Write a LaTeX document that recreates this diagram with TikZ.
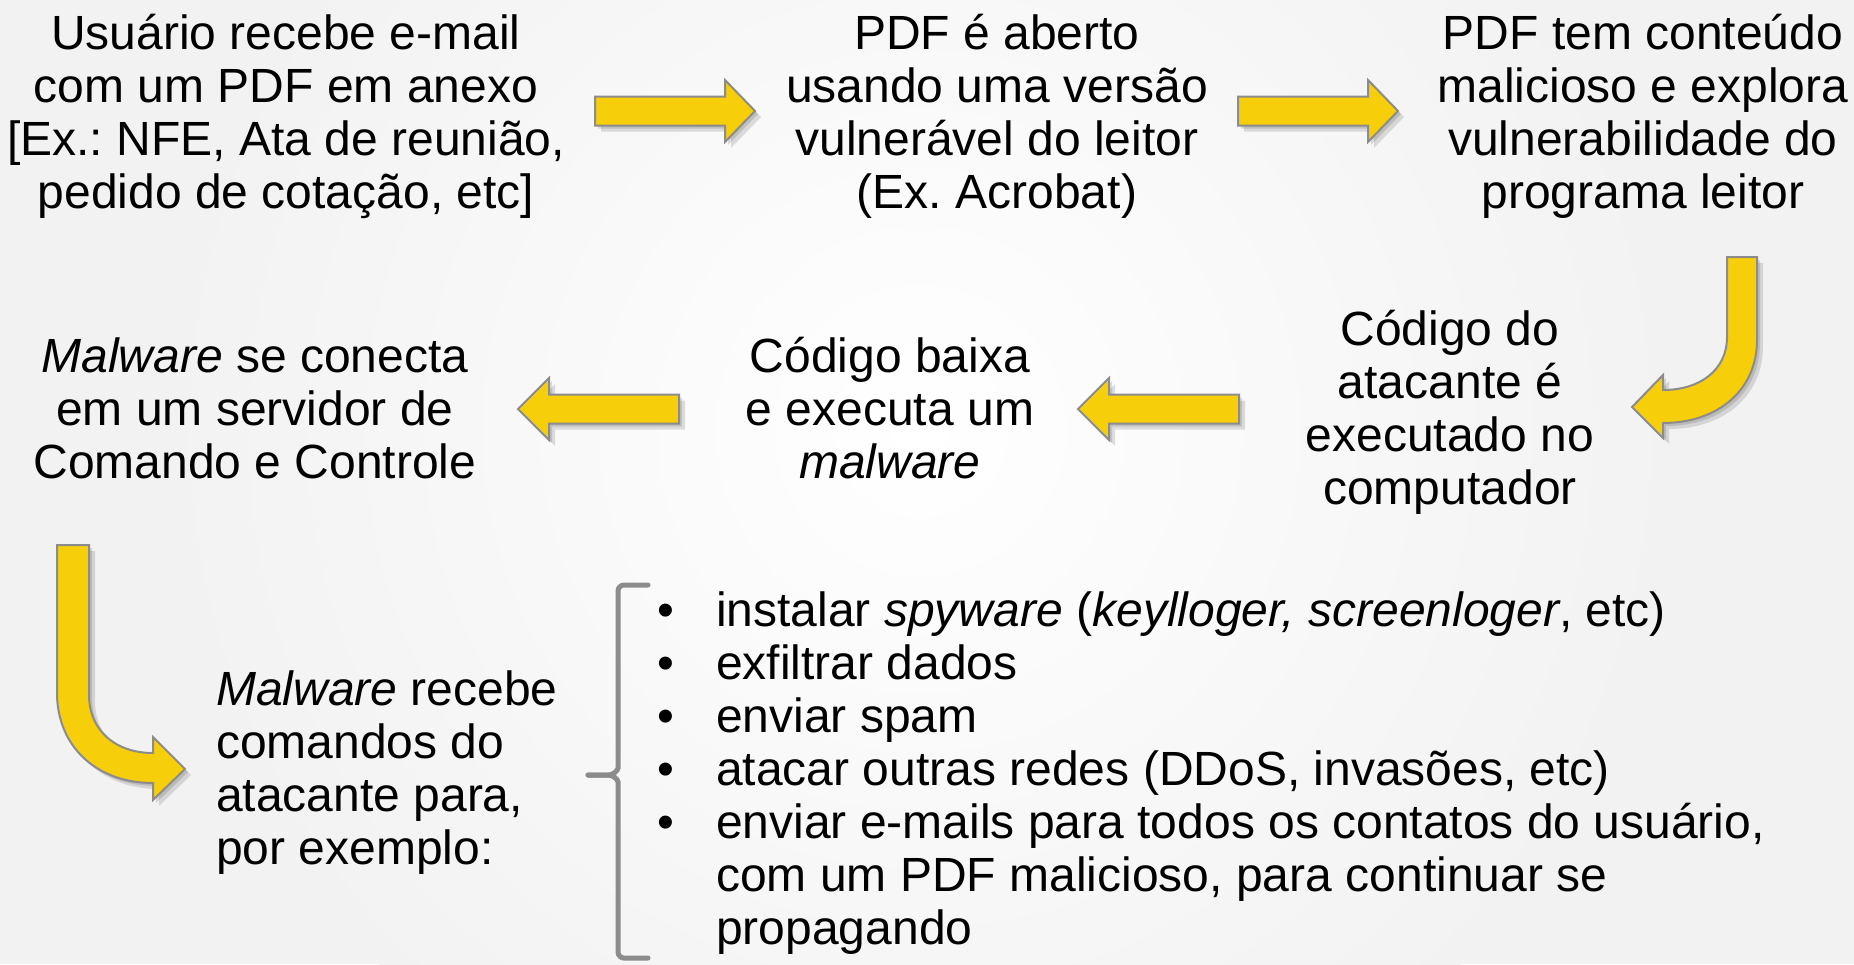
\documentclass[tikz,border=0pt]{standalone}
\usepackage{fontspec}
\setmainfont{Liberation Sans}
\usetikzlibrary{positioning}
\definecolor{arrowyellow}{RGB}{246,206,10}
\definecolor{edgegray}{RGB}{140,140,140}
\definecolor{bggray}{RGB}{242,242,242}
\frenchspacing
\begin{document}
\begin{tikzpicture}[x=1pt,y=-1pt,
    txt/.style={align=center,inner sep=0pt,font=\fontsize{48}{53}\selectfont},
    yarrow/.style={fill=arrowyellow,draw=edgegray,line width=2pt,line join=miter,
      preaction={fill=black,opacity=.12,transform canvas={xshift=6pt,yshift=-6pt}},
      preaction={fill=black,opacity=.12,transform canvas={xshift=3pt,yshift=-3pt}}},
    brace/.style={draw=edgegray,line width=5pt,rounded corners=6pt,line cap=round}]
  \useasboundingbox (0,0) rectangle (1854,964);
  \fill[bggray] (0,0) rectangle (1854,964);
  \shade[inner color=white,outer color=bggray] (920,430) circle (760);

  % steps
  \node[txt] (email) at (286,116) {Usuário recebe e-mail\\com um PDF em anexo\\{[}Ex.: NFE, Ata de reunião,\\pedido de cotação, etc{]}};
  \node[txt] (opened) at (997,116) {PDF é aberto\\usando uma versão\\vulnerável do leitor\\(Ex. Acrobat)};
  \node[txt] (exploit) at (1643,116) {PDF tem conteúdo\\malicioso e explora\\vulnerabilidade do\\programa leitor};
  \node[txt] (runs) at (1450,412) {Código do\\atacante é\\executado no\\computador};
  \node[txt] (download) at (890,408) {Código baixa\\e executa um\\\textit{malware}};
  \node[txt] (cnc) at (255,408) {\textit{Malware} se conecta\\em um servidor de\\Comando e Controle};
  \node[txt,align=left,anchor=west] (orders) at (216,773) {\textit{Malware} recebe\\comandos do\\atacante para,\\por exemplo:};
  \node[inner sep=0pt,anchor=base west,font=\fontsize{48}{53}\selectfont] (actions) at (657,626)
    {\begin{tabular}[t]{@{}p{59pt}@{}l@{}}
      \textbullet & instalar \textit{spyware} (\textit{keylloger, screenloger}, etc)\\
      \textbullet & exfiltrar dados\\
      \textbullet & enviar spam\\
      \textbullet & atacar outras redes (DDoS, invasões, etc)\\
      \textbullet & enviar e-mails para todos os contatos do usuário,\\
                  & com um PDF malicioso, para continuar se\\
                  & propagando
    \end{tabular}};

  % arrows
  \draw[yarrow] (595,96.5) -- (725,96.5) -- (725,80) -- (755,111) -- (725,142) -- (725,125.5) -- (595,125.5) -- cycle;
  \draw[yarrow] (1238,96.5) -- (1368,96.5) -- (1368,80) -- (1398,111) -- (1368,142) -- (1368,125.5) -- (1238,125.5) -- cycle;
  \draw[yarrow] (1727,257) -- (1757,257) -- (1757,340) .. controls (1757,390) and (1718,423) .. (1663,423)
    -- (1663,438) -- (1632,407) -- (1663,375) -- (1663,390) .. controls (1700,390) and (1727,370) .. (1727,337) -- cycle;
  \draw[yarrow] (1239,394.5) -- (1109,394.5) -- (1109,378) -- (1078,409) -- (1109,440) -- (1109,423.5) -- (1239,423.5) -- cycle;
  \draw[yarrow] (679,394.5) -- (549,394.5) -- (549,378) -- (518,409) -- (549,440) -- (549,423.5) -- (679,423.5) -- cycle;
  \draw[yarrow] (57,545) -- (89,545) -- (89,695) .. controls (89,730) and (115,753) .. (153,753)
    -- (153,737) -- (185,769) -- (153,800) -- (153,783) .. controls (95,783) and (57,745) .. (57,693) -- cycle;

  % brace
  \draw[brace] (648,585) -- (618,585) -- (618,762) .. controls (618,771) and (612,775) .. (603,775) -- (588,775);
  \draw[brace] (588,775) -- (603,775) .. controls (612,775) and (618,779) .. (618,788) -- (618,958) -- (648,958);
\end{tikzpicture}
\end{document}
